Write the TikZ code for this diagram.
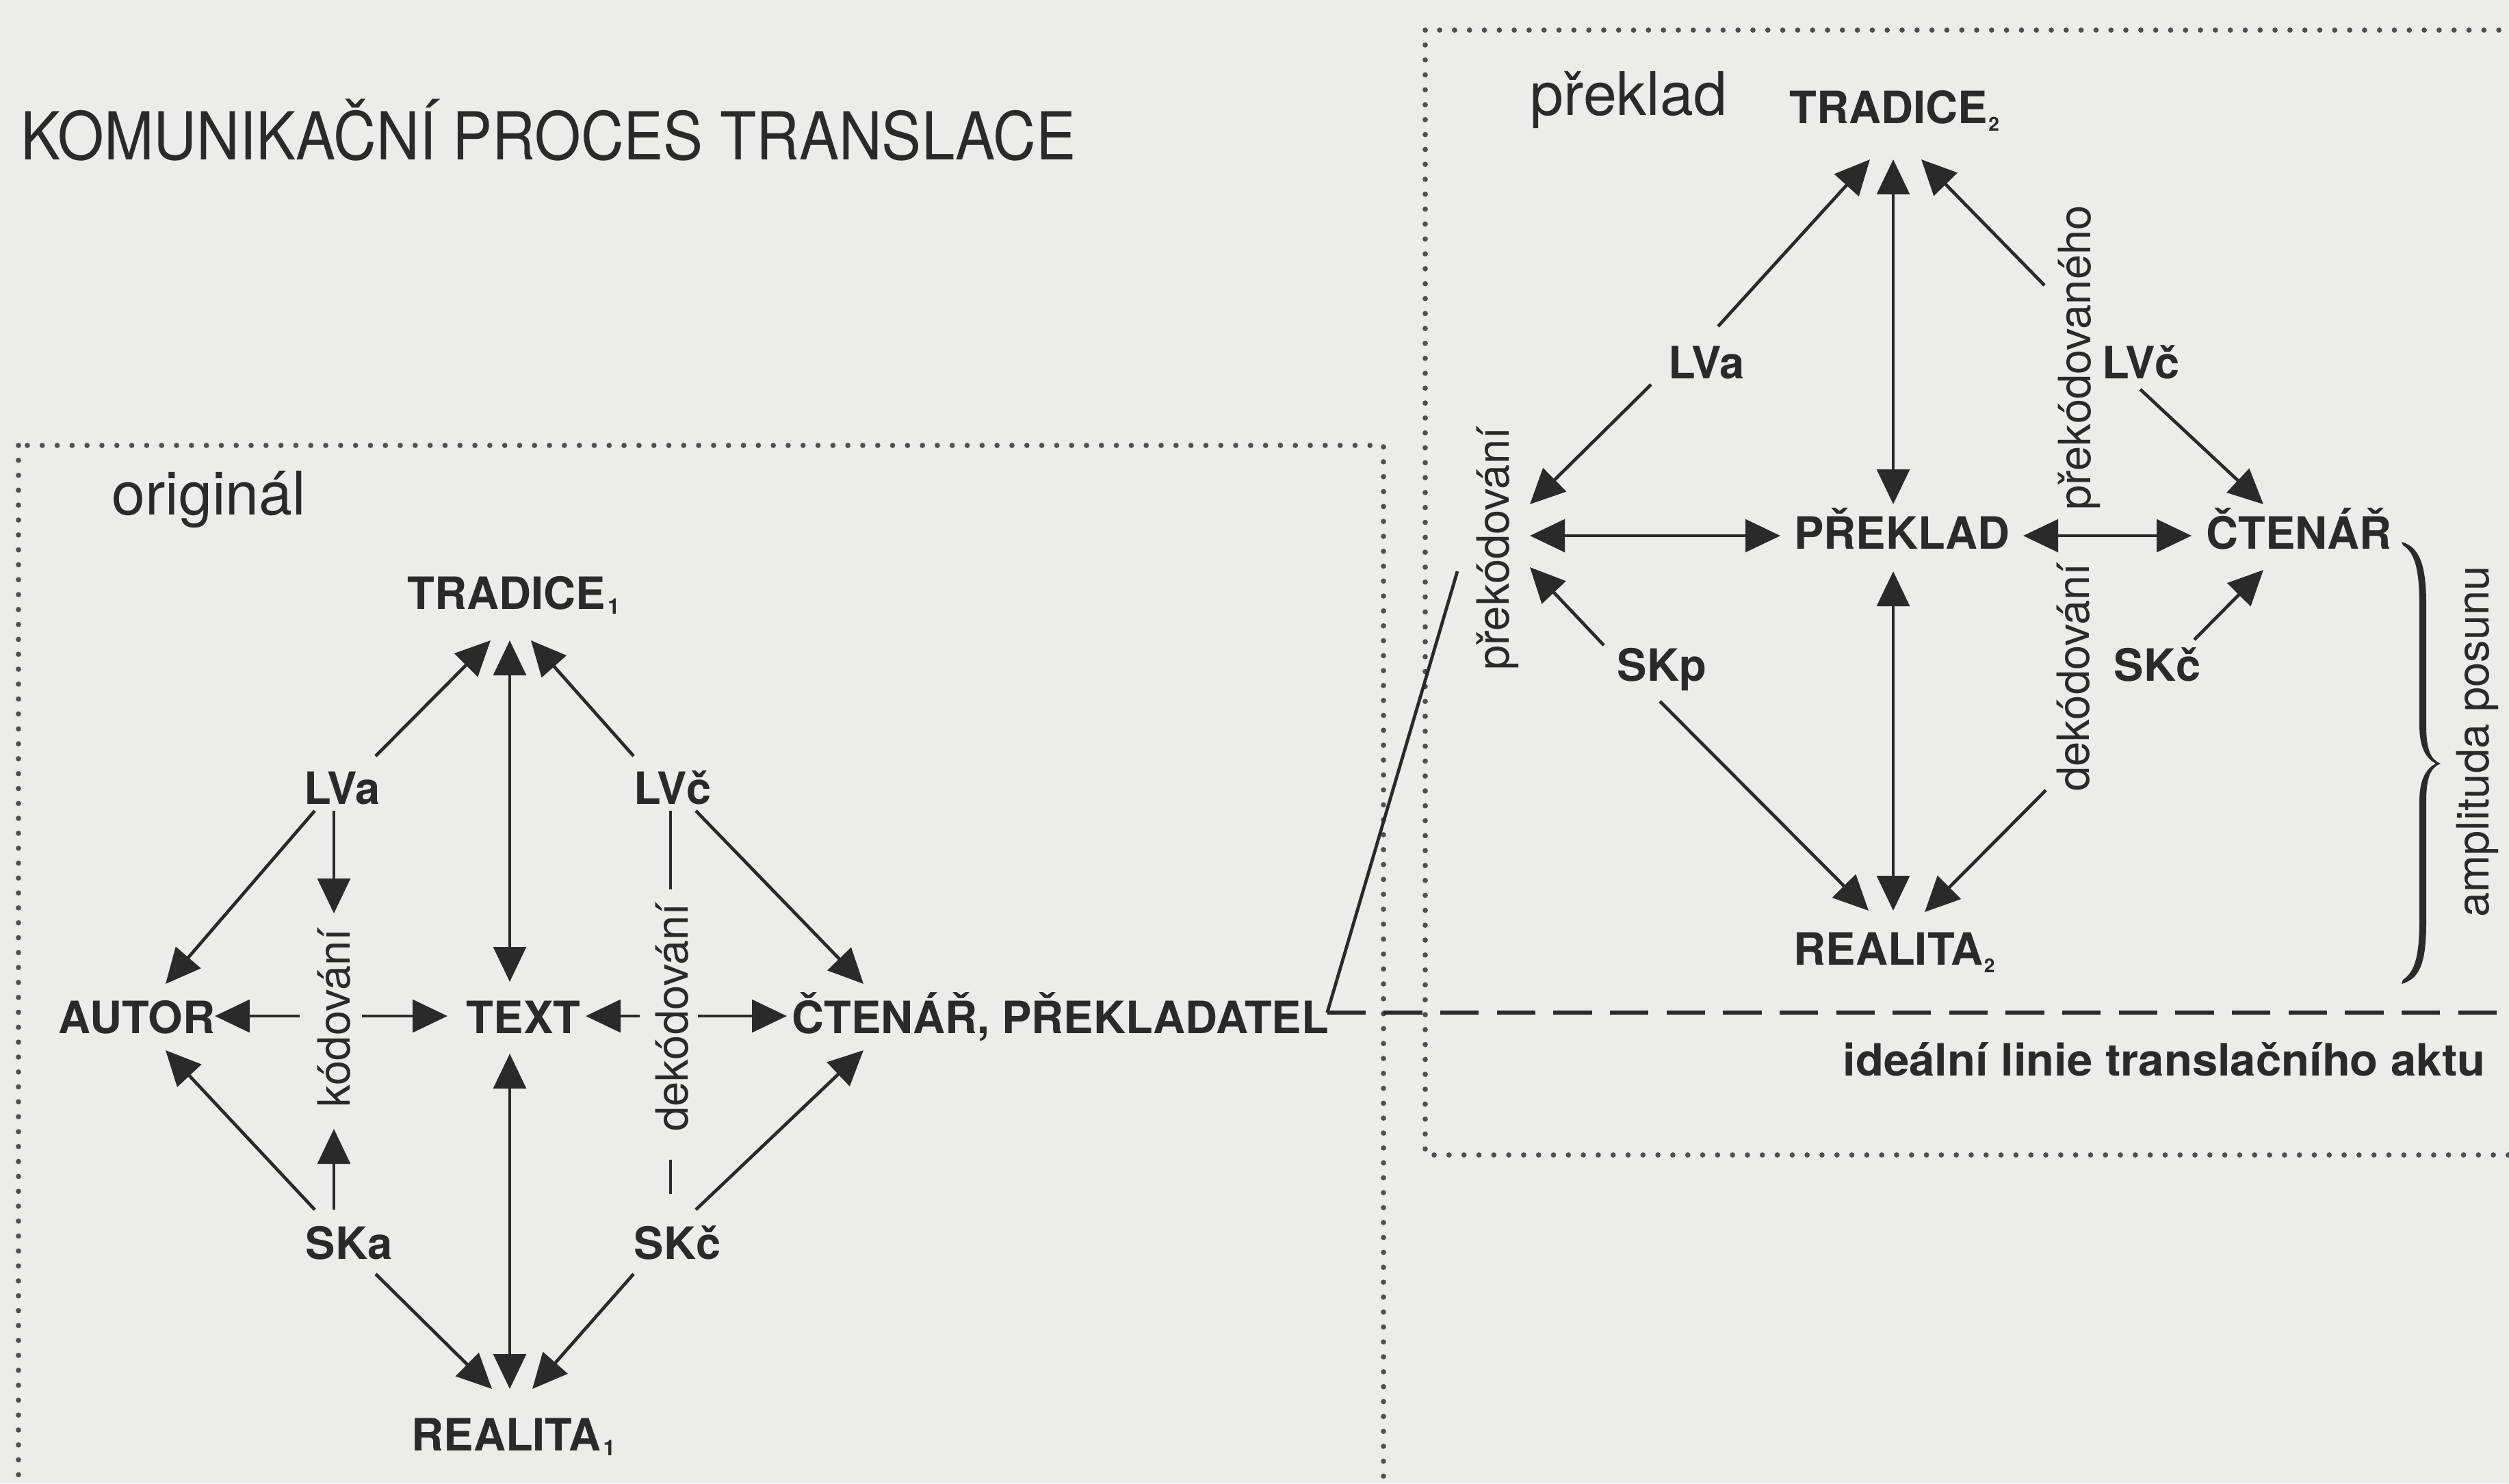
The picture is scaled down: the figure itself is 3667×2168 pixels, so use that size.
\documentclass[tikz,border=0pt]{standalone}
\usepackage{fontspec}
\usepackage{graphicx}
\setmainfont{TeX Gyre Heros}
\usetikzlibrary{arrows.meta,calc}

\definecolor{paper}{RGB}{236,236,235}
\definecolor{ink}{RGB}{42,42,42}
\definecolor{dotink}{RGB}{80,80,80}

% small index after a label, taking no width
\newcommand\idxone{\rlap{\kern1pt\raisebox{-2.2pt}{\fontsize{9}{9}\selectfont 1}}}
\newcommand\idxtwo{\rlap{\kern0.5pt\raisebox{-3.4pt}{\fontsize{8}{8}\selectfont 2}}}

\begin{document}
\begin{tikzpicture}[x=0.01cm,y=-0.01cm,
  lbl/.style={inner sep=0pt,anchor=base,text=ink,font=\fontsize{18.5}{20}\selectfont\bfseries},
  vlbl/.style={inner sep=0pt,anchor=base,rotate=90,text=ink,font=\fontsize{18.5}{20}\selectfont},
  head/.style={inner sep=0pt,anchor=base west,text=ink,font=\fontsize{25}{28}\selectfont},
  titlestyle/.style={inner sep=0pt,anchor=base west,text=ink,font=\fontsize{27.5}{30}\selectfont},
  arr/.style={draw=ink,line width=1.35pt,-{Triangle[length=14.5pt,width=13.5pt]}},
  dblarr/.style={draw=ink,line width=1.35pt,{Triangle[length=14.5pt,width=13.5pt]}-{Triangle[length=14.5pt,width=13.5pt]}},
  plain/.style={draw=ink,line width=1.35pt},
  frame/.style={draw=dotink,line width=2.2pt,line cap=round,dash pattern=on 0pt off 6.2pt},
  ideal/.style={draw=ink,line width=1.5pt,dash pattern=on 16pt off 7.5pt},
]
\useasboundingbox (0,0) rectangle (3667,2168);
\fill[paper] (0,0) rectangle (3667,2168);
\clip (0,0) rectangle (3667,2168);

% dotted frames
\draw[frame] (27,651) rectangle (2022,2260);
\draw[frame] (2083,44) rectangle (3720,1688);

% headings
\node[titlestyle] (title) at (30,233) {\scalebox{0.9}[1]{KOMUNIKAČNÍ PROCES TRANSLACE}};
\node[head] (orig) at (163,752) {originál};
\node[head] (prek) at (2236,168) {překlad};

% ---------- original ----------
\node[lbl] (T1) at (740,890) {TRADICE\idxone};
\node[lbl] (LVa1) at (500,1175) {LVa};
\node[lbl] (LVc1) at (983,1175) {LVč};
\node[lbl] (autor) at (200,1510) {AUTOR};
\node[lbl] (text) at (765,1510) {TEXT};
\node[lbl,anchor=base west] (ctenar1) at (1157,1510) {ČTENÁŘ, PŘEKLADATEL};
\node[lbl] (SKa) at (510,1840) {SKa};
\node[lbl] (SKc1) at (990,1840) {SKč};
\node[lbl] (R1) at (740,2120) {REALITA\idxone};
\node[vlbl] (kod) at (511,1488) {kódování};
\node[vlbl] (dekod1) at (1005,1487) {dekódování};

% ports of the original scheme
\coordinate (T1l) at (717,936);
\coordinate (T1m) at (745,936);
\coordinate (T1r) at (776,936);
\coordinate (LVa1t) at (549,1105);
\coordinate (LVa1l) at (460,1185);
\coordinate (LVa1d) at (488,1185);
\coordinate (LVc1t) at (926,1105);
\coordinate (LVc1r) at (1017,1185);
\coordinate (LVc1d) at (980,1185);
\coordinate (autoru) at (242,1438);
\coordinate (autord) at (242,1535);
\coordinate (autorr) at (314,1485);
\coordinate (textl) at (654,1485);
\coordinate (textr) at (856,1485);
\coordinate (textu) at (745,1435);
\coordinate (textd) at (745,1540);
\coordinate (ctenar1l) at (1150,1485);
\coordinate (ctenar1u) at (1262,1438);
\coordinate (ctenar1d) at (1262,1535);
\coordinate (kodl) at (438,1485);
\coordinate (kodr) at (529,1485);
\coordinate (kodu) at (488,1335);
\coordinate (kodd) at (488,1650);
\coordinate (dekod1l) at (935,1485);
\coordinate (dekod1r) at (1020,1485);
\coordinate (dekod1u) at (980,1300);
\coordinate (dekod1d) at (980,1695);
\coordinate (SKal) at (460,1768);
\coordinate (SKau) at (488,1768);
\coordinate (SKar) at (549,1862);
\coordinate (SKc1r) at (1017,1768);
\coordinate (SKc1l) at (926,1862);
\coordinate (SKc1u) at (980,1745);
\coordinate (R1l) at (719,2030);
\coordinate (R1m) at (745,2030);
\coordinate (R1r) at (778,2030);

\draw[arr] (LVa1t) -- (T1l);
\draw[arr] (LVc1t) -- (T1r);
\draw[dblarr] (T1m) -- (textu);
\draw[dblarr] (textd) -- (R1m);
\draw[arr] (LVa1l) -- (autoru);
\draw[arr] (LVc1r) -- (ctenar1u);
\draw[arr] (SKal) -- (autord);
\draw[arr] (SKc1r) -- (ctenar1d);
\draw[arr] (SKar) -- (R1l);
\draw[arr] (SKc1l) -- (R1r);
\draw[arr] (LVa1d) -- (kodu);
\draw[arr] (SKau) -- (kodd);
\draw[arr] (kodl) -- (autorr);
\draw[arr] (kodr) -- (textl);
\draw[arr] (dekod1l) -- (textr);
\draw[arr] (dekod1r) -- (ctenar1l);
\draw[plain] (LVc1d) -- (dekod1u);
\draw[plain] (SKc1u) -- (dekod1d);

% ---------- translation ----------
\node[lbl] (T2) at (2760,180) {TRADICE\idxtwo};
\node[lbl] (LVa2) at (2494,553) {LVa};
\node[lbl] (LVc2) at (3129,553) {LVč};
\node[lbl] (preklad) at (2780,802) {PŘEKLAD};
\node[lbl] (ctenar2) at (3360,802) {ČTENÁŘ};
\node[lbl] (SKp) at (2429,995) {SKp};
\node[lbl] (SKc2) at (3153,995) {SKč};
\node[lbl] (R2) at (2760,1410) {REALITA\idxtwo};
\node[vlbl] (prekod) at (2205,802) {překódování};
\node[vlbl] (prekodovaneho) at (3055,523) {překódovaného};
\node[vlbl] (dekod2) at (3053,990) {dekódování};
\node[vlbl] (ampl) at (3637,1084) {amplituda posunu};
\node[lbl,anchor=base east] (ideal) at (3633,1572) {\scalebox{1.03}[1]{ideální linie translačního aktu}};

% ports of the translation scheme
\coordinate (T2l) at (2733,233);
\coordinate (T2m) at (2767,233);
\coordinate (T2r) at (2808,233);
\coordinate (LVa2t) at (2511,477);
\coordinate (LVa2l) at (2413,562);
\coordinate (prekodovanehot) at (2988,417);
\coordinate (LVc2r) at (3128,569);
\coordinate (prekodu) at (2236,737);
\coordinate (prekodm) at (2236,783);
\coordinate (prekodd) at (2236,829);
\coordinate (prekladl) at (2602,783);
\coordinate (prekladr) at (2957,783);
\coordinate (prekladu) at (2767,737);
\coordinate (prekladd) at (2767,835);
\coordinate (ctenar2l) at (3203,783);
\coordinate (ctenar2u) at (3308,737);
\coordinate (ctenar2d) at (3308,833);
\coordinate (SKpl) at (2344,943);
\coordinate (SKpr) at (2426,1025);
\coordinate (SKc2u) at (3207,935);
\coordinate (dekod2d) at (2990,1155);
\coordinate (R2l) at (2731,1331);
\coordinate (R2m) at (2767,1331);
\coordinate (R2r) at (2813,1333);

\draw[arr] (LVa2t) -- (T2l);
\draw[arr] (prekodovanehot) -- (T2r);
\draw[dblarr] (T2m) -- (prekladu);
\draw[dblarr] (prekladd) -- (R2m);
\draw[arr] (LVa2l) -- (prekodu);
\draw[dblarr] (prekodm) -- (prekladl);
\draw[arr] (SKpl) -- (prekodd);
\draw[dblarr] (prekladr) -- (ctenar2l);
\draw[arr] (LVc2r) -- (ctenar2u);
\draw[arr] (SKc2u) -- (ctenar2d);
\draw[arr] (SKpr) -- (R2l);
\draw[arr] (dekod2d) -- (R2r);

% link from the reader/translator to the recoding, and the ideal line
\coordinate (kink) at ($(ctenar1.base east)+(-3,-30)$);
\coordinate (prekodlink) at (2130,835);
\coordinate (rightedge) at (3720,0);
\draw[plain] (kink) -- (prekodlink);
\draw[ideal] (kink) -- (kink -| rightedge);

% brace spanning the shift
\fill[ink] (3510,792) .. controls (3540,800) and (3546,835) .. (3546,885)
  -- (3546,1060) .. controls (3546,1095) and (3552,1110) .. (3567,1116)
  .. controls (3552,1122) and (3546,1137) .. (3546,1172)
  -- (3546,1345) .. controls (3546,1400) and (3540,1430) .. (3510,1438)
  -- (3512,1432) .. controls (3530,1420) and (3536,1395) .. (3536,1345)
  -- (3536,1172) .. controls (3536,1140) and (3545,1124) .. (3560,1116)
  .. controls (3545,1108) and (3536,1092) .. (3536,1060)
  -- (3536,885) .. controls (3536,835) and (3530,808) .. (3512,797) -- cycle;
\end{tikzpicture}
\end{document}
